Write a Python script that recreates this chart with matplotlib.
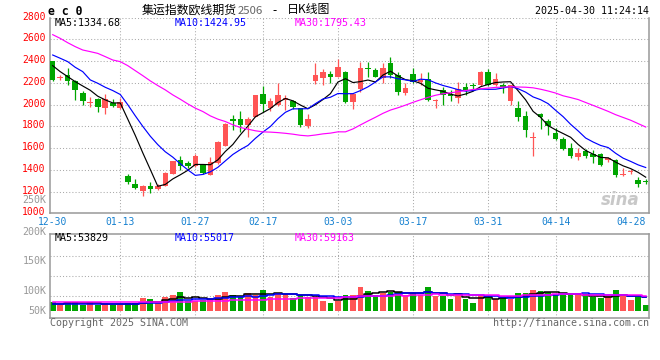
import matplotlib
matplotlib.use('Agg')
import matplotlib.pyplot as plt
import matplotlib.transforms as mtransforms
import numpy as np
import pandas as pd

# ---------------- data ----------------
holidays = ['2025-01-01', '2025-01-28', '2025-01-29', '2025-01-30', '2025-01-31',
            '2025-02-03', '2025-02-04', '2025-04-04']
_days = pd.bdate_range('2024-12-30', '2025-04-30')
dates = [d.strftime('%m-%d') for d in _days if d.strftime('%Y-%m-%d') not in holidays]

opens = [2400, 2242, 2270, 2220, 2110, 2015, 2050, 1965, 2012, 1968,
         1345, 1272, 1202, 1248, 1225, 1255, 1365, 1492, 1460, 1432,
         1440, 1350, 1462, 1622, 1868, 1868, 1815, 1885, 2098, 1970,
         2000, 2040, 2037, 1967, 1805, 2218, 2242, 2282, 2257, 2303,
         2020, 2141, 2340, 2318, 2248, 2386, 2273, 2110, 2282, 2205,
         2236, 2031, 2135, 2095, 2058, 2165, 2184, 2184, 2301, 2184,
         2184, 2030, 1969, 1898, 1695, 1913, 1852, 1738, 1685, 1605,
         1522, 1575, 1547, 1547, 1486, 1492, 1352, 1382, 1303, 1293]
highs = [2405, 2270, 2334, 2228, 2126, 2074, 2058, 2095, 2052, 2058,
         1364, 1318, 1257, 1284, 1272, 1376, 1483, 1523, 1477, 1547,
         1450, 1514, 1665, 1829, 1905, 1942, 1884, 2090, 2170, 2058,
         2200, 2089, 2046, 1973, 1915, 2386, 2325, 2312, 2416, 2310,
         2095, 2389, 2395, 2334, 2386, 2441, 2303, 2196, 2334, 2291,
         2300, 2052, 2165, 2135, 2211, 2202, 2200, 2308, 2323, 2286,
         2200, 2184, 2037, 1944, 1744, 1923, 1870, 1784, 1701, 1645,
         1599, 1593, 1584, 1553, 1514, 1498, 1416, 1407, 1330, 1315]
lows = [2215, 2225, 2180, 2045, 1997, 1976, 1936, 1911, 1976, 1957,
        1272, 1223, 1156, 1187, 1217, 1248, 1360, 1394, 1416, 1425,
        1364, 1349, 1455, 1620, 1762, 1744, 1700, 1884, 1930, 1942,
        1991, 1951, 1957, 1792, 1783, 2190, 2181, 2202, 2255, 2019,
        1957, 2119, 2257, 2255, 2196, 2248, 2089, 2089, 2196, 2181,
        2031, 1973, 1997, 2034, 2012, 2089, 2138, 2169, 2175, 2169,
        2107, 1993, 1846, 1698, 1528, 1775, 1722, 1676, 1584, 1513,
        1491, 1508, 1462, 1437, 1471, 1333, 1345, 1364, 1241, 1272]
closes = [2225, 2250, 2220, 2130, 2030, 2028, 1978, 2050, 1990, 2028,
          1285, 1230, 1248, 1225, 1255, 1370, 1483, 1438, 1432, 1523,
          1370, 1471, 1660, 1820, 1845, 1815, 1868, 2090, 2008, 2037,
          2089, 2058, 1980, 1815, 1866, 2273, 2297, 2252, 2349, 2020,
          2095, 2340, 2325, 2257, 2340, 2273, 2120, 2156, 2205, 2224,
          2046, 2046, 2089, 2075, 2141, 2135, 2172, 2298, 2178, 2231,
          2160, 2184, 1883, 1762, 1700, 1883, 1806, 1686, 1593, 1528,
          1553, 1530, 1514, 1446, 1508, 1355, 1358, 1388, 1272, 1288]
volumes = [34200, 23700, 34200, 34200, 23700, 34200, 23700, 30300, 23700, 23700,
           30300, 30300, 50000, 46100, 30300, 54000, 63200, 75100, 39500, 39500,
           43500, 46100, 63200, 75100, 63200, 56600, 72400, 63200, 83000, 56600,
           72400, 67200, 52700, 63200, 56600, 54000, 40800, 32900, 39500, 63200,
           63200, 96100, 79000, 63200, 72400, 76400, 76400, 63200, 72400, 63200,
           96100, 59300, 59300, 47400, 72400, 47400, 32900, 63200, 56600, 46100,
           56600, 46100, 72400, 72400, 83000, 79000, 73800, 63200, 63200, 63200,
           63200, 59300, 54000, 50000, 59300, 83000, 63200, 43500, 54000, 23700]

# moving-average values before enough in-window history exists
ma5_lead = [2358, 2303, 2257, 2211]
ma10_lead = [2456, 2426, 2395, 2343, 2303, 2227, 2196, 2159, 2129]
ma30_lead = [2643, 2609, 2569, 2533, 2502, 2487, 2471, 2441, 2410, 2395,
             2358, 2312, 2266, 2218, 2175, 2135, 2089, 2049, 2006, 1967,
             1936, 1896, 1866, 1844, 1814, 1789, 1774, 1759, 1749]
vol_ma5_lead = [29000, 29000, 30000, 30000]
vol_ma10_lead = [29000, 29000, 29000, 29000, 29000, 29000, 29000, 29000, 29000]
vol_ma30_lead = [35500, 35500, 35500, 35000, 35000, 35000, 34500, 34500, 34000, 34000,
                 34000, 34000, 34500, 35000, 35500, 36000, 36500, 37000, 37500, 38000,
                 38500, 39000, 40000, 40500, 41500, 42000, 43000, 44000, 45000]

tick_labels = ['12-30', '01-13', '01-27', '02-17', '03-03', '03-17', '03-31', '04-14', '04-28']
price_ticks = [1000, 1200, 1400, 1600, 1800, 2000, 2200, 2400, 2600]

title_main = '集运指数欧线期货'
title_code = '2506'
title_tail = '日K线图'
symbol = 'e c 0'
timestamp = '2025-04-30 11:24:14'
price_legend = ['MA5:1334.68', 'MA10:1424.95', 'MA30:1795.43']
vol_legend = ['MA5:53829', 'MA10:55017', 'MA30:59163']
vol_axis_labels = ['250K', '200K', '150K', '100K', '50K']

# ---------------- helpers ----------------
W, H = 660, 360
def fx(x):
    return x / W
def fy(y):
    return 1 - y / H

def moving(values, n, lead):
    s = pd.Series(values, dtype=float).rolling(n).mean().to_numpy()
    s[:len(lead)] = lead
    return s

MONO = 'DejaVu Sans Mono'
CJK = ['Noto Sans CJK SC', 'DejaVu Sans']
UP = '#ff5555'
DOWN = '#00a600'
GRID = '#aaaaaa'
FRAME = '#999999'
MA_COLORS = ['#000000', '#0000ff', '#ff00ff']
TICK_BLUE = '#1580d0'

n = len(closes)
x = np.arange(n)
colors = [UP if c >= o else DOWN for o, c in zip(opens, closes)]
tick_pos = [dates.index(t) for t in tick_labels]

fig = plt.figure(figsize=(6.6, 3.6), dpi=100)
fig.patch.set_facecolor('white')

XL = (-0.36, 79.44)

# ---------------- price panel ----------------
ax = fig.add_axes([fx(50), fy(213.3), (649 - 50) / W, (213.3 - 17.6) / H])
ax.set_xlim(*XL)
ax.set_ylim(1000, 2800)

for p in price_ticks[1:] + [2800]:
    ax.axhline(p, color=GRID, lw=0.75, ls=(0, (1, 2)), zorder=0)
for tp in tick_pos[1:-1]:
    ax.axvline(tp, color=GRID, lw=0.75, ls=(0, (1, 2)), zorder=0)

ax.vlines(x, lows, highs, colors=colors, lw=0.9, zorder=2)
body_h = [max(abs(c - o), 9) for o, c in zip(opens, closes)]
body_b = [min(o, c) if abs(c - o) >= 9 else (o + c) / 2 - 4.5 for o, c in zip(opens, closes)]
ax.bar(x, body_h, bottom=body_b, width=0.74, color=colors, lw=0, zorder=3)

for m, lead, col in zip([5, 10, 30], [ma5_lead, ma10_lead, ma30_lead], MA_COLORS):
    ax.plot(x, moving(closes, m, lead), color=col, lw=0.85, zorder=4)

for sp in ['left', 'bottom', 'right']:
    ax.spines[sp].set_color(FRAME)
    ax.spines[sp].set_linewidth(1.1)
ax.spines['top'].set_visible(False)

ax.set_yticks(price_ticks + [2800])
ax.set_yticklabels([str(p) for p in price_ticks + [2800]], family=MONO, fontsize=7, color='#ff0000')
ax.tick_params(axis='y', length=0, pad=3)
off = mtransforms.ScaledTranslation(0, 2 / 100, fig.dpi_scale_trans)
for lab in ax.get_yticklabels():
    lab.set_transform(lab.get_transform() + off)
ax.set_xticks(tick_pos)
ax.set_xticklabels(tick_labels, family=MONO, fontsize=7, color=TICK_BLUE)
ax.tick_params(axis='x', length=0, pad=3)

ax.text(0.985, 0.07, 'sina', transform=ax.transAxes, ha='right', va='center',
        fontsize=12, fontweight='bold', style='italic', color='#c8c8c8', zorder=1)

# ---------------- volume panel ----------------
vax = fig.add_axes([fx(50), fy(317.7), (649 - 50) / W, (317.7 - 234.3) / H])
vax.set_xlim(*XL)
vscale = 3950.0  # volume per pixel
vax.set_ylim(-(317.7 - 311) * vscale, (311 - 234.3) * vscale)
for yy in [255.7, 275.7, 295.7]:
    f = (317.7 - yy) / (317.7 - 234.3)
    vax.plot([0, 1], [f, f], transform=vax.transAxes, color=GRID, lw=0.75, ls=(0, (1, 2)), zorder=0)
for tp in tick_pos[1:-1]:
    vax.axvline(tp, color=GRID, lw=0.75, ls=(0, (1, 2)), zorder=0)
vax.bar(x, volumes, width=0.76, color=colors, lw=0, zorder=2)
for m, lead, col in zip([5, 10, 30], [vol_ma5_lead, vol_ma10_lead, vol_ma30_lead], MA_COLORS):
    vax.plot(x, moving(volumes, m, lead), color=col, lw=1.1, drawstyle='steps-mid', zorder=3)
for sp in vax.spines.values():
    sp.set_color(FRAME)
    sp.set_linewidth(1.1)
vax.set_xticks([])
vax.set_yticks([])

# ---------------- texts ----------------
fig.text(fx(48), fy(11.5), symbol, family=MONO, fontsize=8.3, fontweight='bold', va='center', ha='left')
fig.text(fx(141.5), fy(9.8), title_main, family=CJK, fontsize=8.6, va='center', ha='left')
fig.text(fx(238), fy(10.5), title_code, family=CJK, fontsize=8.2, va='center', ha='left', color='#666666')
fig.text(fx(272), fy(10.5), '-', family=CJK, fontsize=8.6, va='center', ha='left')
fig.text(fx(287), fy(9.8), title_tail, family=CJK, fontsize=8.6, va='center', ha='left')
fig.text(fx(649), fy(11.5), timestamp, family=MONO, fontsize=7.2, va='center', ha='right')

for txt, xx, col in zip(price_legend, [55, 175, 295], MA_COLORS):
    fig.text(fx(xx), fy(23.5), txt, family=MONO, fontsize=7.2, va='center', ha='left', color=col)
for txt, xx, col in zip(vol_legend, [55, 175, 295], MA_COLORS):
    fig.text(fx(xx), fy(238), txt, family=MONO, fontsize=7.2, va='center', ha='left', color=col)

for txt, yy in zip(vol_axis_labels, [200, 232, 260.7, 290.7, 310.7]):
    fig.text(fx(46.5), fy(yy), txt, family=MONO, fontsize=7.2, va='center', ha='right', color='#999999')

fig.text(fx(50), fy(323), 'Copyright 2025 SINA.COM', family=MONO, fontsize=7.2, va='center', ha='left', color='#666666')
fig.text(fx(649), fy(323.5), 'http://finance.sina.com.cn', family=MONO, fontsize=7.2, va='center', ha='right', color='#666666')

fig.savefig('out.png', dpi=100)
